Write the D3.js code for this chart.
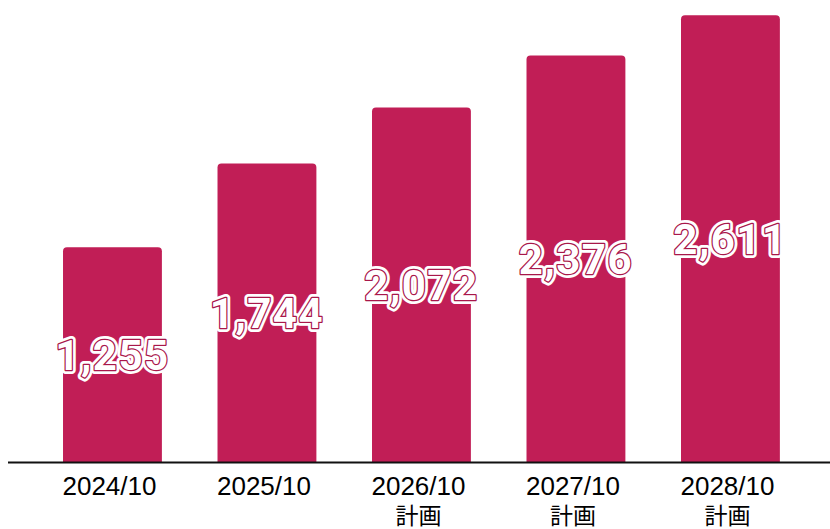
<!DOCTYPE html>
<html><head><meta charset="utf-8">
<script src="https://cdn.jsdelivr.net/npm/d3@7"></script>
<style>body{margin:0;background:#fff}svg{display:block}</style>
</head><body>
<svg id="c" width="830" height="529"></svg>
<script>
const categories = ["2024/10","2025/10","2026/10","2027/10","2028/10"];
const subLabels = ["","","計画","計画","計画"];
const values = [1255,1744,2072,2376,2611];

const svg = d3.select("#c");
const baseY = 462;
const x = d3.scaleBand().domain(categories).range([7.4, 835.5]).padding(0.36);
const y = d3.scaleLinear().domain([0, 2700]).range([baseY, 0]);
const color = "#C11E56";
const r = 4;

const data = categories.map((c,i)=>({c, v: values[i], s: subLabels[i]}));

svg.selectAll("path.bar").data(data).join("path").attr("class","bar")
  .attr("fill", color)
  .attr("d", d => {
    const x0 = x(d.c), w = x.bandwidth(), y0 = y(d.v), y1 = y(0);
    return `M${x0},${y1}V${y0+r}Q${x0},${y0} ${x0+r},${y0}H${x0+w-r}Q${x0+w},${y0} ${x0+w},${y0+r}V${y1}Z`;
  });

svg.append("line").attr("x1",8).attr("x2",830).attr("y1",baseY+0.5).attr("y2",baseY+0.5)
  .attr("stroke","#111").attr("stroke-width",2);

const xl = svg.selectAll("g.xl").data(data).join("g").attr("class","xl")
  .attr("transform", d => `translate(${x(d.c)+x.bandwidth()/2 - 3},0)`);
xl.append("text").attr("y",495).attr("text-anchor","middle")
  .attr("font-family","Liberation Sans, Arial, sans-serif").attr("font-size",26).attr("fill","#000")
  .text(d=>d.c);
xl.append("text").attr("y",524).attr("text-anchor","middle")
  .attr("font-family","Noto Sans CJK JP, sans-serif").attr("font-size",23).attr("fill","#000")
  .text(d=>d.s);

const fmt = d3.format(",");
const lab = svg.selectAll("g.lab").data(data).join("g").attr("class","lab")
  .attr("transform", d => `translate(${x(d.c)+x.bandwidth()/2},${(y(d.v)+y(0))/2})`);
lab.append("text").attr("text-anchor","middle").attr("dy","0.36em")
  .attr("font-family","Roboto, sans-serif").attr("font-weight",700).attr("font-size",42)
  .attr("letter-spacing",1.5)
  .attr("fill","#fff").attr("stroke","#fff").attr("stroke-width",8).attr("stroke-linejoin","round")
  .text(d=>fmt(d.v));
lab.append("text").attr("text-anchor","middle").attr("dy","0.36em")
  .attr("font-family","Roboto, sans-serif").attr("font-weight",700).attr("font-size",42)
  .attr("letter-spacing",1.5)
  .attr("fill","#fff").attr("stroke","#A8174A").attr("stroke-width",2.5).attr("stroke-linejoin","round")
  .attr("paint-order","stroke")
  .text(d=>fmt(d.v));
</script>
</body></html>
